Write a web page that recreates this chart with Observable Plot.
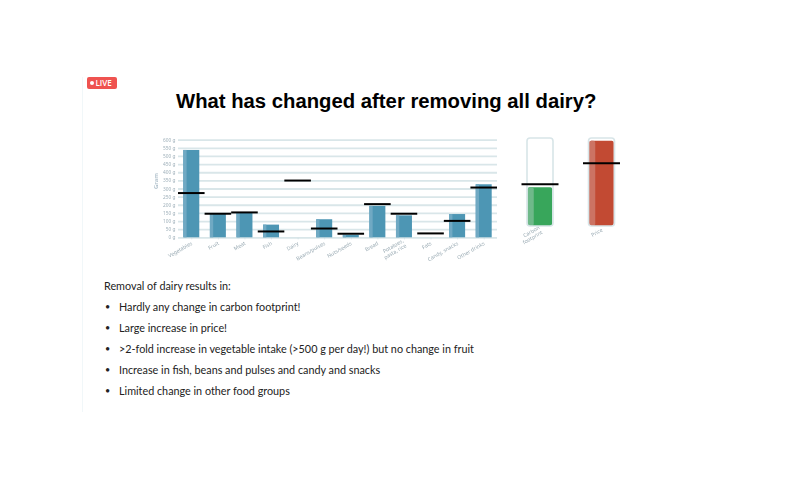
<!DOCTYPE html>
<html><head><meta charset="utf-8">
<script src="https://cdn.jsdelivr.net/npm/d3@7"></script>
<script src="https://cdn.jsdelivr.net/npm/@observablehq/plot@0.6"></script>
<style>
html,body{margin:0;padding:0;background:#fff;width:800px;height:500px;overflow:hidden}
#page{position:relative;width:800px;height:500px;font-family:Lato,sans-serif}
#page>*{position:absolute}
.plot svg{display:block;filter:blur(.35px);overflow:visible}
#live{left:87px;top:77px;width:30px;height:12px;background:#ef5350;border-radius:2px;color:#fff;font:600 8px/12px "Open Sans",sans-serif;text-align:left}
#live i{position:absolute;left:3px;top:4px;width:4px;height:4px;border-radius:50%;background:#fff}
#live span{position:absolute;left:8.5px;top:0}
#edge{left:82px;top:77px;width:1px;height:335px;background:#f1f7f9}
h1{margin:0;left:176px;top:88px;width:420px;text-align:center;white-space:nowrap;font:700 20.3px/26px "Liberation Sans",Arial,sans-serif;color:#000}
.txt{left:104px;white-space:nowrap;font-size:10.8px;line-height:14px;color:#222}
.bul{padding-left:15px}
.bul:before{content:"•";position:absolute;left:1px;font-size:9px}
</style></head><body>
<div id="page">
<div id="edge"></div>
<div id="live"><i></i><span>LIVE</span></div>
<h1>What has changed after removing all dairy?</h1>
<div id="main" class="plot" style="left:150px;top:130px"></div>
<div id="side" class="plot" style="left:500px;top:130px"></div>
<div id="notes"></div>
</div>
<script>
const foods = ["Vegetables","Fruit","Meat","Fish","Dairy","Beans/pulses","Nuts/seeds","Bread","Potatoes,\npasta, rice","Fats","Candy, snacks","Other drinks"];
const grams = [537,143,152,78,0,111,16,193,135,0,143,326];
const reference = [275,148,156,39,352,57,25,207,148,27,104,309];
const yTicks = [0,50,100,150,200,250,300,350,400,450,500,550,600];

const metrics = ["Carbon\nfootprint","Price"];
const metricFill = [44,97];
const metricRef = [48,72];
const metricColors = ["#38a65b","#c24a33"];
const metricStripes = ["#6fb98a","#cc7363"];
const full = [100,100];

const noteLead = "Removal of dairy results in:";
const notes = ["Hardly any change in carbon footprint!","Large increase in price!",">2-fold increase in vegetable intake (>500 g per day!) but no change in fruit","Increase in fish, beans and pulses and candy and snacks","Limited change in other food groups"];

const foodRows = foods.map((f,i)=>({f,g:grams[i],r:reference[i]}));
const metricRows = metrics.map((m,i)=>({m,v:metricFill[i],r:metricRef[i],c:metricColors[i],s:metricStripes[i],full:full[i]}));

document.getElementById("main").append(Plot.plot({
  width:350,height:150,marginLeft:28,marginRight:3,marginTop:9.7,marginBottom:42.7,
  style:{background:"transparent",overflow:"visible"},
  x:{domain:foods,padding:0,round:false,label:null},
  y:{domain:[0,600],label:null},
  marks:[
    Plot.ruleY(yTicks,{stroke:"#d9e6e9",strokeWidth:1.8}),
    Plot.axisY({ticks:yTicks,tickSize:0,tickPadding:3,tickFormat:d=>d+" g",fontSize:4.8,stroke:"none",fill:"#9fb0ba",label:null,marginLeft:28}),
    Plot.text(["Gram"],{frameAnchor:"left",dx:-22,rotate:-90,fontSize:6,fill:"#aebfca",fontWeight:600}),
    Plot.axisX({tickRotate:-30,tickSize:2,tickPadding:3,fontSize:5.2,fill:"#98a9b2",stroke:"#d5e2e6",label:null,lineHeight:1.1}),
    Plot.barY(foodRows,{x:"f",y:"g",fill:"#4d96b4",insetLeft:5.3,insetRight:5.3}),
    Plot.barY(foodRows,{x:"f",y:"g",fill:"#70a9c3",insetLeft:5.3,insetRight:18}),
    Plot.tickY(foodRows,{x:"f",y:"r",stroke:"#000",strokeWidth:2})
  ]
}));

document.getElementById("side").append(Plot.plot({
  width:150,height:160,marginLeft:9.25,marginRight:17.75,marginTop:8,marginBottom:64,
  style:{background:"transparent",overflow:"visible"},
  x:{domain:metrics,padding:0,round:false,label:null},
  y:{domain:[0,100],label:null,axis:null},
  marks:[
    Plot.axisX({tickRotate:-30,tickSize:0,tickPadding:3,fontSize:5.2,fill:"#98a9b2",label:null,lineHeight:1.1}),
    Plot.barY(metricRows,{x:"m",y:"v",fill:"c",insetLeft:18.5,insetRight:18.5,rx:2}),
    Plot.barY(metricRows,{x:"m",y:"v",fill:"s",insetLeft:18.5,insetRight:37,rx:2}),
    Plot.barY(metricRows,{x:"m",y:"full",fill:"none",stroke:"#d8e5e8",strokeWidth:1.6,insetLeft:17.75,insetRight:17.75,rx:3}),
    Plot.tickY(metricRows,{x:"m",y:"r",stroke:"#000",strokeWidth:2,insetLeft:12.25,insetRight:12.25})
  ]
}));

const host=document.getElementById("page");
[noteLead,...notes].forEach((t,i)=>{
  const d=document.createElement("div");
  d.className="txt"+(i?" bul":"");
  d.style.top=(279+i*21)+"px";
  d.textContent=t;
  host.append(d);
});
</script>
</body></html>
